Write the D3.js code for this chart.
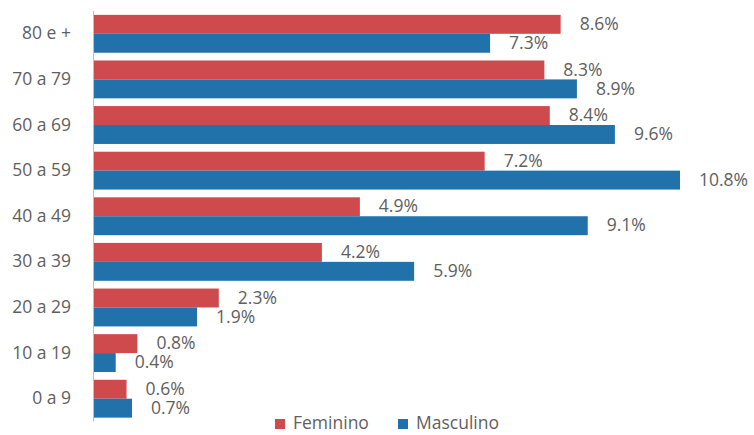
<!DOCTYPE html>
<html><head><meta charset="utf-8">
<script src="https://cdn.jsdelivr.net/npm/d3@7"></script>
<style>body{margin:0;background:#fff}svg{display:block}</style>
</head><body>
<svg id="c" width="754" height="435"></svg>
<script>
const categories = ["80 e +","70 a 79","60 a 69","50 a 59","40 a 49","30 a 39","20 a 29","10 a 19","0 a 9"];
const feminino = [8.6,8.3,8.4,7.2,4.9,4.2,2.3,0.8,0.6];
const masculino = [7.3,8.9,9.6,10.8,9.1,5.9,1.9,0.4,0.7];
const seriesNames = ["Feminino","Masculino"];
const colors = ["#cf4a4c","#2171ab"];

const svg = d3.select("#c");
const font = "'Open Sans', sans-serif";
const fs = 17.5;
const textColor = "#5f5f5f";
const x0 = 94, y0 = 11, y1 = 421.5;
const x = d3.scaleLinear().domain([0,10.8]).range([x0,680]);
const y = d3.scaleBand().domain(categories).range([y0,y1]).paddingInner(0.17).paddingOuter(0.085);
const sub = d3.scaleBand().domain(seriesNames).range([0,y.bandwidth()]);

const data = [feminino, masculino];
categories.forEach((c,i)=>{
  seriesNames.forEach((s,j)=>{
    const v = data[j][i];
    svg.append("rect").attr("x",x(0)).attr("y",y(c)+sub(s))
      .attr("width",x(v)-x(0)).attr("height",sub.bandwidth()).attr("fill",colors[j]);
    svg.append("text").attr("x",x(v)+19).attr("y",y(c)+sub(s)+sub.bandwidth()/2+1)
      .attr("dominant-baseline","middle").attr("font-family",font).attr("font-size",fs)
      .attr("fill",textColor).text(v.toFixed(1)+"%");
  });
});

// axis
const ax = svg.append("g").attr("transform",`translate(${x0-1},0)`)
  .call(d3.axisLeft(y).tickSize(0).tickPadding(22));
ax.select(".domain").attr("stroke","#bfbfbf").attr("d",`M0.5,${y0}V${y1}`);
ax.selectAll("text").attr("font-family",font).attr("font-size",fs).attr("fill",textColor)
  .attr("dy","0.32em");

// legend
const leg = [{n:"Feminino",c:colors[0],x:275},{n:"Masculino",c:colors[1],x:398}];
leg.forEach(l=>{
  svg.append("rect").attr("x",l.x).attr("y",419).attr("width",10).attr("height",10).attr("fill",l.c);
  svg.append("text").attr("x",l.x+18).attr("y",424.5).attr("dominant-baseline","middle")
    .attr("font-family",font).attr("font-size",fs).attr("fill",textColor).text(l.n);
});
</script>
</body></html>
